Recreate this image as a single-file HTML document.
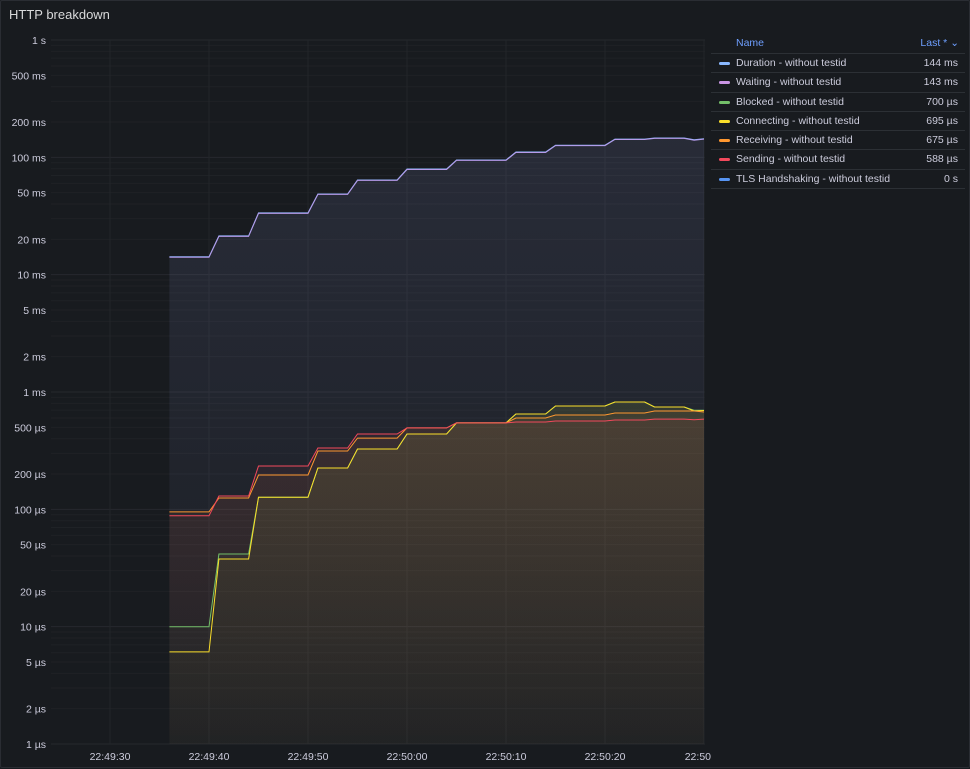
<!DOCTYPE html>
<html><head><meta charset="utf-8"><style>
html,body{margin:0;padding:0;background:#181b1f;}
body{width:970px;height:768px;overflow:hidden;font-family:"Liberation Sans",sans-serif;color:#ccccdc;position:relative;}
.panel{position:absolute;left:0;top:0;width:968px;height:766px;border:1px solid #2a2d33;border-radius:2px;background:#181b1f;}
.title{position:absolute;left:8px;top:6px;font-size:13px;color:#d8d9da;}
.legend{position:absolute;left:710px;top:32px;width:254px;font-size:10.5px;}
.lh{height:20px;position:relative;border-bottom:1px solid #2c3035;color:#6e9fff;}
.lh span{position:absolute;top:4px;}
.row{height:18.3px;position:relative;border-bottom:1px solid #2c3035;}
.sw{position:absolute;left:8px;top:8px;width:11px;height:3px;border-radius:2px;}
.nm{position:absolute;left:25px;top:3px;}
.vl{position:absolute;right:7px;top:3px;}
svg text{font-family:"Liberation Sans",sans-serif;font-size:10.5px;fill:#ccccdc;}
</style></head><body>
<div class="panel">
<div class="title">HTTP breakdown</div>
<svg id="chart" width="970" height="768" style="position:absolute;left:0;top:0"></svg>
<div class="legend">
 <div class="lh"><span style="left:25px">Name</span><span style="right:6px">Last * ⌄</span></div>
 <div class="row"><div class="sw" style="background:#8ab8ff"></div><span class="nm">Duration - without testid</span><span class="vl">144 ms</span></div>
 <div class="row"><div class="sw" style="background:#ca95e5"></div><span class="nm">Waiting - without testid</span><span class="vl">143 ms</span></div>
 <div class="row"><div class="sw" style="background:#73bf69"></div><span class="nm">Blocked - without testid</span><span class="vl">700 µs</span></div>
 <div class="row"><div class="sw" style="background:#fade2a"></div><span class="nm">Connecting - without testid</span><span class="vl">695 µs</span></div>
 <div class="row"><div class="sw" style="background:#ff9830"></div><span class="nm">Receiving - without testid</span><span class="vl">675 µs</span></div>
 <div class="row"><div class="sw" style="background:#f2495c"></div><span class="nm">Sending - without testid</span><span class="vl">588 µs</span></div>
 <div class="row"><div class="sw" style="background:#5794f2"></div><span class="nm">TLS Handshaking - without testid</span><span class="vl">0 s</span></div>
</div>
</div>
<script>
// seconds after 22:49:00
const times = [36,40,41,44,45,50,51,54,55,59,60,64,65,70,71,74,75,80,81,84,85,88,89,90];
// values in microseconds
const durationUs = [14200,14200,21400,21400,33600,33600,48700,48700,64100,64100,79500,79500,94900,94900,111000,111000,127000,127000,143000,143000,146000,146000,141000,144000];
const waitingUs = [14100,14100,21200,21200,33300,33300,48300,48300,63600,63600,78800,78800,94100,94100,110000,110000,126000,126000,142000,142000,145000,145000,140000,143000];
const blockedUs = [10,10,41.6,41.6,127,127,225,225,327,327,439,439,545,545,649,649,760,760,822,822,745,745,700,700];
const connectingUs = [6.1,6.1,37.7,37.7,127,127,225,225,327,327,439,439,545,545,649,649,760,760,822,822,745,745,689,695];
const receivingUs = [95,95,125,125,196,196,314,314,405,405,494,494,545,545,600,600,637,637,662,662,689,689,689,675];
const sendingUs = [88,88,130,130,234,234,333,333,439,439,494,494,545,545,555,555,566,566,577,577,588,588,580,588];
const yTickLabels = ["1 s","500 ms","200 ms","100 ms","50 ms","20 ms","10 ms","5 ms","2 ms","1 ms","500 µs","200 µs","100 µs","50 µs","20 µs","10 µs","5 µs","2 µs","1 µs"];
const yTickValues = [1e6,5e5,2e5,1e5,5e4,2e4,1e4,5e3,2e3,1e3,500,200,100,50,20,10,5,2,1];
const xTickLabels = ["22:49:30","22:49:40","22:49:50","22:50:00","22:50:10","22:50:20","22:50"];
const xTickValues = [30,40,50,60,70,80,90];

const NS="http://www.w3.org/2000/svg";
const svg=document.getElementById('chart');
const L=50,R=704,T=39,B=743;
function xs(t){return 109+(t-30)*9.9;}
function ys(v){return T+(6-Math.log10(v))*(B-T)/6;}
function mk(tag,attrs,parent){const e=document.createElementNS(NS,tag);for(const k in attrs)e.setAttribute(k,attrs[k]);(parent||svg).appendChild(e);return e;}

const grid=mk('g',{});


for(let d=0;d<6;d++){for(let m=1;m<10;m++){const v=m*Math.pow(10,d);const y=ys(v);
 mk('line',{x1:L,x2:R,y1:y,y2:y,stroke:m===1?'#26292e':'#1f2226','stroke-width':1},grid);}}
mk('line',{x1:L,x2:R,y1:ys(1e6),y2:ys(1e6),stroke:'#26292e'},grid);
xTickValues.forEach((t,i)=>{const x=xs(t);mk('line',{x1:x,x2:x,y1:T,y2:B,stroke:'#222529'},grid);});

const yax=mk('g',{});


yTickValues.forEach((v,i)=>{const t=mk('text',{x:45,y:ys(v)+4,'text-anchor':'end'},yax);t.textContent=yTickLabels[i];});
const xax=mk('g',{});


xTickValues.forEach((v,i)=>{const t=mk('text',{x:i===6?710:xs(v),y:759,'text-anchor':i===6?'end':'middle'},xax);t.textContent=xTickLabels[i];});

const defs=mk('defs',{});
const series=[
 ['duration',durationUs,'#8ab8ff'],
 ['waiting',waitingUs,'#b69bea'],
 ['blocked',blockedUs,'#73bf69'],
 ['connecting',connectingUs,'#fade2a'],
 ['receiving',receivingUs,'#ff9830'],
 ['sending',sendingUs,'#f2495c']
];
series.forEach(([name,vals,col],si)=>{
 const g=mk('linearGradient',{id:'g'+si,x1:0,y1:0,x2:0,y2:1},defs);
 mk('stop',{offset:0,'stop-color':col,'stop-opacity':0.06},g);
 mk('stop',{offset:1,'stop-color':col,'stop-opacity':0.01},g);
 const pts=times.map((t,i)=>xs(t).toFixed(1)+','+ys(vals[i]).toFixed(1));
 const area=mk('path',{d:'M'+xs(times[0])+','+B+' L'+pts.join(' L')+' L'+xs(times[times.length-1])+','+B+' Z',fill:'url(#g'+si+')'});
 
 
});
series.forEach(([name,vals,col])=>{
 const pts=times.map((t,i)=>xs(t).toFixed(1)+','+ys(vals[i]).toFixed(1));
 const line=mk('path',{d:'M'+pts.join(' L'),fill:'none',stroke:col,'stroke-width':1});
 
 
});
</script>
</body></html>
